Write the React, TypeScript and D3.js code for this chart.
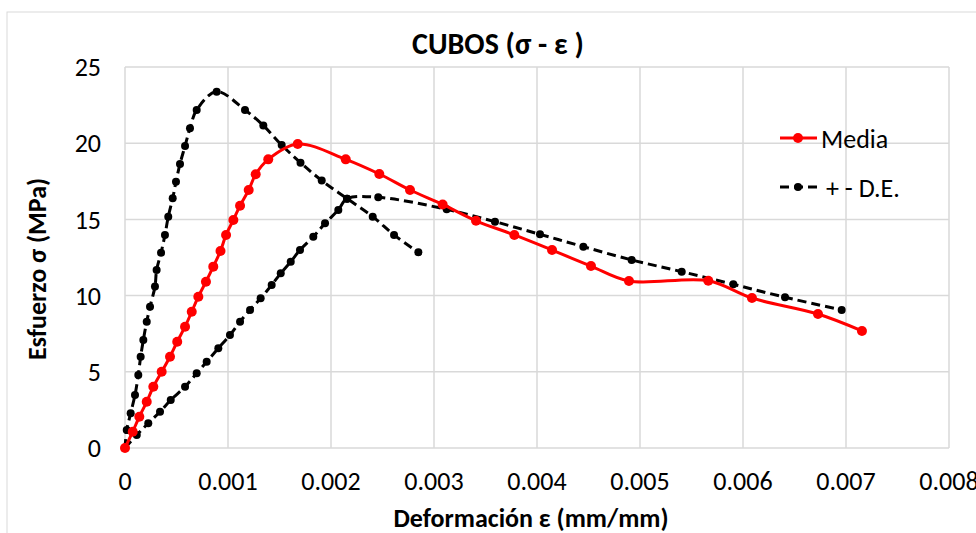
import React from "react";
import * as d3 from "d3";

// strain values are in units of 0.001 mm/mm
const mediaStrain = [
  0, 0.075, 0.139, 0.211, 0.275, 0.356, 0.437, 0.507, 0.583, 0.648, 0.712, 0.786, 0.857,
  0.927, 0.981, 1.052, 1.117, 1.201, 1.269, 1.391, 1.677, 2.143, 2.469, 2.767, 3.084,
  3.408, 3.78, 4.146, 4.524, 4.893, 5.663, 6.087, 6.728, 7.155
];
const mediaStress = [
  0, 1.07, 2.05, 3.03, 4.02, 5.0, 5.99, 6.97, 7.96, 8.94, 9.93, 10.91, 11.9, 12.93, 13.98,
  14.96, 15.9, 16.93, 17.96, 18.94, 19.95, 18.94, 17.98, 16.93, 15.98, 14.91, 13.98, 12.99,
  11.94, 10.96, 10.98, 9.84, 8.79, 7.68
];

const upperStrain = [
  0, 0.017, 0.055, 0.097, 0.129, 0.152, 0.178, 0.211, 0.243, 0.291, 0.307, 0.35, 0.388,
  0.42, 0.463, 0.495, 0.534, 0.583, 0.631, 0.696, 0.89, 1.165, 1.343, 1.521, 1.704, 1.91,
  2.157, 2.405, 2.612, 2.848
];
const upperStress = [
  0, 1.18, 2.28, 3.48, 4.79, 5.99, 7.09, 8.29, 9.27, 10.59, 11.68, 12.81, 13.98, 15.17,
  16.38, 17.47, 18.64, 19.82, 20.98, 22.18, 23.38, 22.18, 21.16, 19.88, 18.72, 17.55,
  16.36, 15.18, 13.98, 12.84
];

const lowerStrain = [
  0, 0.114, 0.226, 0.34, 0.444, 0.583, 0.696, 0.793, 0.906, 1.019, 1.117, 1.214, 1.317,
  1.424, 1.512, 1.609, 1.699, 1.828, 1.942, 2.071, 2.155, 2.459, 3.123, 3.592, 4.029,
  4.45, 4.919, 5.405, 5.906, 6.408, 6.958
];
const lowerStress = [
  0, 0.85, 1.62, 2.38, 3.15, 4.02, 4.9, 5.66, 6.54, 7.41, 8.29, 9.06, 9.82, 10.7, 11.46,
  12.22, 12.99, 13.86, 14.74, 15.62, 16.36, 16.45, 15.66, 14.85, 14.02, 13.21, 12.34,
  11.57, 10.74, 9.89, 9.06
];

const xTicks = [0, 1, 2, 3, 4, 5, 6, 7, 8];
const xTickLabels = ["0", "0.001", "0.002", "0.003", "0.004", "0.005", "0.006", "0.007", "0.008"];
const yTicks = [0, 5, 10, 15, 20, 25];

const FONT = "Carlito, Lato, 'Open Sans', sans-serif";

export default function App() {
  const W = 976, H = 533;
  const left = 125, right = 949, top = 67, bottom = 448;

  const x = d3.scaleLinear().domain([0, 8]).range([left, right]);
  const y = d3.scaleLinear().domain([0, 25]).range([bottom, top]);

  const line = d3
    .line<[number, number]>()
    .x(d => x(d[0]))
    .y(d => y(d[1]))
    .curve(d3.curveCatmullRom.alpha(0.5));

  const zip = (a: number[], b: number[]) => a.map((v, i) => [v, b[i]] as [number, number]);
  const media = zip(mediaStrain, mediaStress);
  const upper = zip(upperStrain, upperStress);
  const lower = zip(lowerStrain, lowerStress);

  return (
    <svg
      width={W}
      height={H}
      style={{ position: "absolute", left: 0, top: 0, background: "#fff" }}
      fontFamily={FONT}
    >
      <rect x={7} y={12} width={W} height={H} fill="#fff" stroke="#d9d9d9" strokeWidth={1} />

      {/* gridlines */}
      {yTicks.map(t => (
        <line key={"gy" + t} x1={left} x2={right} y1={y(t)} y2={y(t)} stroke="#d9d9d9" strokeWidth={1.5} />
      ))}
      {xTicks.map(t => (
        <line key={"gx" + t} x1={x(t)} x2={x(t)} y1={top} y2={bottom} stroke="#d9d9d9" strokeWidth={1.5} />
      ))}

      {/* tick labels */}
      {yTicks.map(t => (
        <text key={"ly" + t} x={101} y={y(t)} dy="0.35em" textAnchor="end" fontSize={26} fill="#000">
          {t}
        </text>
      ))}
      {xTicks.map((t, i) => (
        <text key={"lx" + t} x={x(t)} y={490} textAnchor="middle" fontSize={26} fill="#000">
          {xTickLabels[i]}
        </text>
      ))}

      {/* series */}
      <path d={line(upper) || ""} fill="none" stroke="#000" strokeWidth={3} strokeDasharray="9,5" />
      <path d={line(lower) || ""} fill="none" stroke="#000" strokeWidth={3} strokeDasharray="9,5" />
      {upper.map((d, i) => (
        <circle key={"u" + i} cx={x(d[0])} cy={y(d[1])} r={4} fill="#000" />
      ))}
      {lower.map((d, i) => (
        <circle key={"l" + i} cx={x(d[0])} cy={y(d[1])} r={4} fill="#000" />
      ))}
      <path d={line(media) || ""} fill="none" stroke="#ff0000" strokeWidth={3} />
      {media.map((d, i) => (
        <circle key={"m" + i} cx={x(d[0])} cy={y(d[1])} r={5} fill="#ff0000" />
      ))}

      {/* title */}
      <text x={498} y={54} textAnchor="middle" fontSize={30} fontWeight="bold" fill="#000">
        CUBOS (σ - ε )
      </text>

      {/* axis titles */}
      <text x={531} y={527} textAnchor="middle" fontSize={26} fontWeight="bold" fill="#000">
        Deformación ε (mm/mm)
      </text>
      <text
        transform="translate(46,269) rotate(-90)"
        textAnchor="middle"
        fontSize={26}
        fontWeight="bold"
        fill="#000"
      >
        Esfuerzo σ (MPa)
      </text>

      {/* legend */}
      <line x1={780} x2={817} y1={138} y2={138} stroke="#ff0000" strokeWidth={3} />
      <circle cx={798} cy={138} r={5} fill="#ff0000" />
      <text x={821} y={139} dy="0.35em" fontSize={26} fill="#000">
        Media
      </text>
      <line x1={780} x2={817} y1={187} y2={187} stroke="#000" strokeWidth={3} strokeDasharray="9,5" />
      <circle cx={798} cy={187} r={4} fill="#000" />
      <text x={826} y={188} dy="0.35em" fontSize={26} fill="#000">
        + - D.E.
      </text>
    </svg>
  );
}
